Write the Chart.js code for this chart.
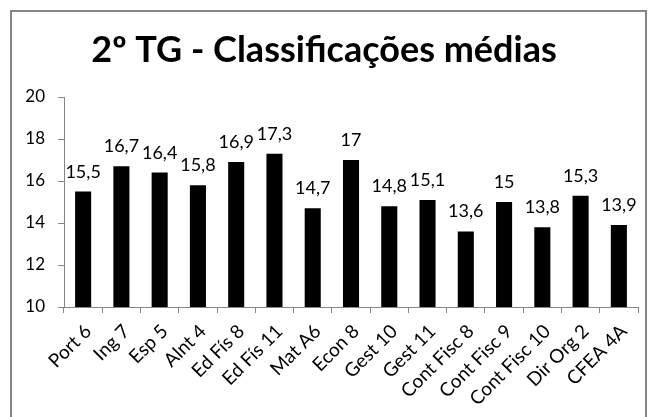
<!DOCTYPE html>
<html>
<head>
<meta charset="utf-8">
<script src="https://cdn.jsdelivr.net/npm/chart.js@4"></script>
<style>
  html, body { margin: 0; padding: 0; background: #fff; }
  #wrap { position: relative; width: 651px; height: 417px; overflow: hidden; }
  #frame { position: absolute; left: 10px; top: 10px; width: 637px; height: 420px; border: 2px solid #868686; box-sizing: border-box; pointer-events: none; }
</style>
</head>
<body>
<div id="wrap">
  <canvas id="chart" width="651" height="417"></canvas>
  <div id="frame"></div>
</div>
<script>
const titleText = '2º TG - Classificações médias'
const categories = ['Port 6', 'Ing 7', 'Esp 5', 'Alnt 4', 'Ed Fís 8', 'Ed Fís 11', 'Mat A6', 'Econ 8', 'Gest 10', 'Gest 11', 'Cont Fisc 8', 'Cont Fisc 9', 'Cont Fisc 10', 'Dir Org 2', 'CFEA 4A']
const averages = [15.5, 16.7, 16.4, 15.8, 16.9, 17.3, 14.7, 17, 14.8, 15.1, 13.6, 15, 13.8, 15.3, 13.9]
const yMin = 10
const yMax = 20
const yStep = 2

const fontFamily = 'Lato, "Open Sans", sans-serif'

// title drawn by hand, centred over the frame
const titlePlugin = {
  id: 'titleTop',
  afterDraw(chart) {
    const ctx = chart.ctx
    ctx.save()
    ctx.font = 'bold 36px ' + fontFamily
    ctx.fillStyle = '#000'
    ctx.textAlign = 'center'
    ctx.textBaseline = 'alphabetic'
    ctx.fillText(titleText, 324, 62)
    ctx.restore()
  },
}

// value labels above bars, decimal comma
const valueLabels = {
  id: 'valueLabels',
  afterDatasetsDraw(chart) {
    const ctx = chart.ctx
    const meta = chart.getDatasetMeta(0)
    ctx.save()
    ctx.font = '18px ' + fontFamily
    ctx.fillStyle = '#000'
    ctx.textAlign = 'center'
    ctx.textBaseline = 'alphabetic'
    meta.data.forEach((bar, i) => {
      const txt = String(averages[i]).replace('.', ',')
      ctx.fillText(txt, bar.x, bar.y - 14)
    })
    ctx.restore()
  },
}

const config = {
  type: 'bar',
  data: {
    labels: categories,
    datasets: [
      {
        data: averages,
        backgroundColor: '#000',
        borderWidth: 0,
        barPercentage: 0.42,
        categoryPercentage: 1,
      },
    ],
  },
  options: {
    responsive: false,
    animation: false,
    layout: {
      padding: { left: 10, right: 13, top: 97, bottom: 0 },
    },
    plugins: {
      legend: { display: false },
      title: { display: false },
      tooltip: { enabled: false },
    },
    scales: {
      x: {
        offset: true,
        grid: {
          display: true,
          offset: true,
          drawOnChartArea: false,
          drawTicks: true,
          tickLength: 6,
          color: '#868686',
        },
        border: { display: true, color: '#868686', width: 1 },
        ticks: {
          color: '#000',
          font: { family: fontFamily, size: 19 },
          minRotation: 45,
          maxRotation: 45,
          autoSkip: false,
          padding: 7,
          labelOffset: 5,
        },
        afterFit(scale) {
          scale.height = 110
        },
      },
      y: {
        min: yMin,
        max: yMax,
        grid: {
          display: true,
          drawOnChartArea: false,
          drawTicks: true,
          tickLength: 6,
          color: '#868686',
        },
        border: { display: true, color: '#868686', width: 1 },
        ticks: {
          stepSize: yStep,
          color: '#000',
          font: { family: fontFamily, size: 17 },
          padding: 13,
        },
        afterFit(scale) {
          scale.width = 54
        },
      },
    },
  },
  plugins: [titlePlugin, valueLabels],
}

new Chart(document.getElementById('chart'), config)
</script>
</body>
</html>
